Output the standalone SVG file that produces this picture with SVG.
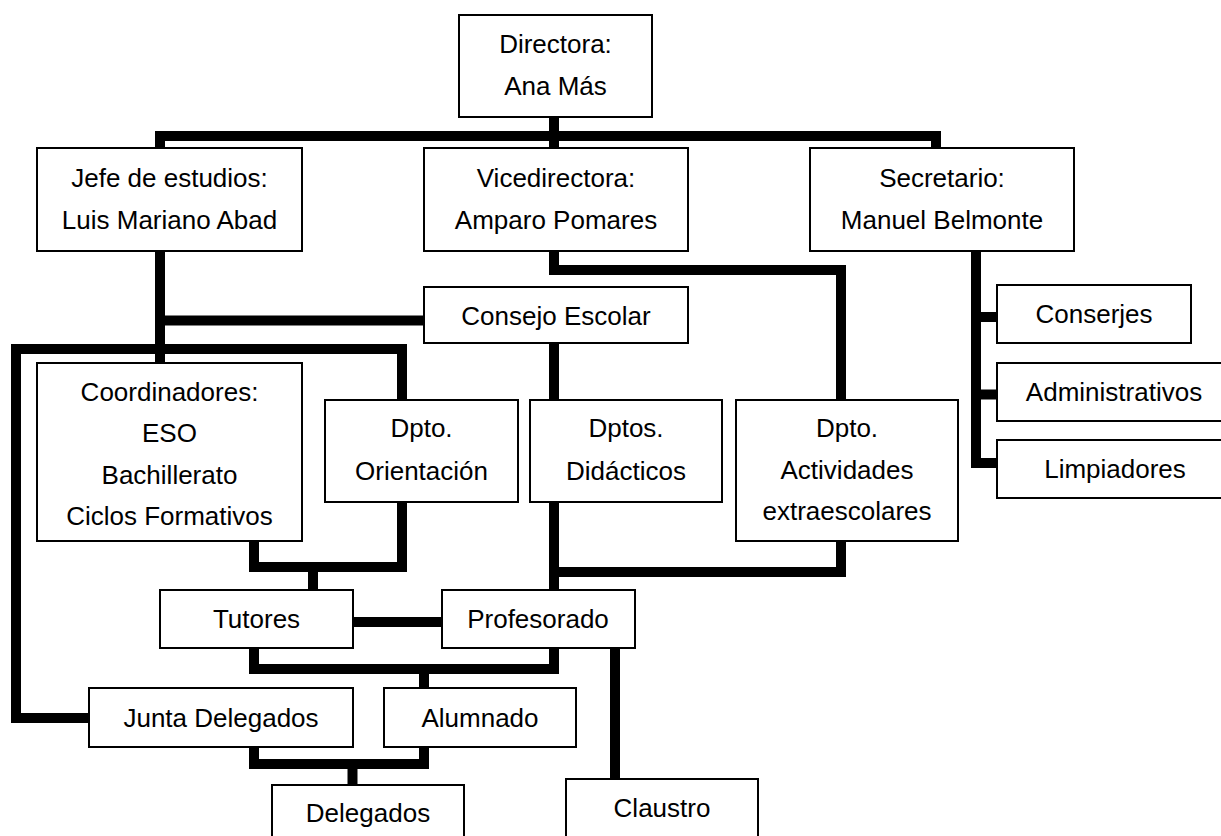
<svg xmlns="http://www.w3.org/2000/svg" width="1221" height="836" viewBox="0 0 1221 836">
<style>
.box{fill:#ffffff;stroke:#000000;stroke-width:2}
.t{font-family:"Liberation Sans",Arial,sans-serif;font-size:26px;fill:#000000;text-anchor:middle}
.c{fill:none;stroke:#000000;stroke-width:10;stroke-linejoin:miter;stroke-linecap:butt}
</style>
<rect width="1221" height="836" fill="#ffffff"/>
<g id="connectors">
  <path class="c" d="M554 117 V148"/>
  <path class="c" d="M160 148 V136 H936 V149"/>
  <path class="c" d="M160 251 V363"/>
  <path class="c" d="M160 320.5 H424"/>
  <path class="c" d="M554 251 V270 H841 V400"/>
  <path class="c" d="M554 343 V400"/>
  <path class="c" d="M402 400 V349 H16 V718 H89"/>
  <path class="c" d="M254 541 V567 H402 V502"/>
  <path class="c" d="M313 567 V590"/>
  <path class="c" d="M353 622 H442"/>
  <path class="c" d="M554 502 V590"/>
  <path class="c" d="M554 572 H841 V541"/>
  <path class="c" d="M254 648 V669 H554 V648"/>
  <path class="c" d="M424 669 V688"/>
  <path class="c" d="M615 648 V779"/>
  <path class="c" d="M254 747 V764 H424 V747"/>
  <path class="c" d="M352.5 764 V785"/>
  <path class="c" d="M976 251 V463 H997"/>
  <path class="c" d="M976 317 H997"/>
  <path class="c" d="M976 394.5 H997"/>
</g>
<g id="directora">
  <rect class="box" x="459" y="15" width="193" height="102"/>
  <text class="t" x="555.5" y="53">Directora:</text>
  <text class="t" x="555.5" y="95">Ana Más</text>
</g>
<g id="jefe">
  <rect class="box" x="37" y="148" width="265" height="103"/>
  <text class="t" x="169.5" y="187">Jefe de estudios:</text>
  <text class="t" x="169.5" y="229">Luis Mariano Abad</text>
</g>
<g id="vicedirectora">
  <rect class="box" x="424" y="148" width="264" height="103"/>
  <text class="t" x="556" y="187">Vicedirectora:</text>
  <text class="t" x="556" y="229">Amparo Pomares</text>
</g>
<g id="secretario">
  <rect class="box" x="810" y="148" width="264" height="103"/>
  <text class="t" x="942" y="187">Secretario:</text>
  <text class="t" x="942" y="229">Manuel Belmonte</text>
</g>
<g id="consejo">
  <rect class="box" x="424" y="287" width="264" height="56"/>
  <text class="t" x="556" y="325">Consejo Escolar</text>
</g>
<g id="conserjes">
  <rect class="box" x="997" y="285" width="194" height="58"/>
  <text class="t" x="1094" y="323">Conserjes</text>
</g>
<g id="administrativos">
  <rect class="box" x="997" y="363" width="240" height="58"/>
  <text class="t" x="1114" y="401">Administrativos</text>
</g>
<g id="limpiadores">
  <rect class="box" x="997" y="440" width="240" height="58"/>
  <text class="t" x="1115" y="478">Limpiadores</text>
</g>
<g id="coordinadores">
  <rect class="box" x="37" y="363" width="265" height="178"/>
  <text class="t" x="169.5" y="401">Coordinadores:</text>
  <text class="t" x="169.5" y="442">ESO</text>
  <text class="t" x="169.5" y="483.5">Bachillerato</text>
  <text class="t" x="169.5" y="525">Ciclos Formativos</text>
</g>
<g id="orientacion">
  <rect class="box" x="325" y="400" width="193" height="102"/>
  <text class="t" x="421.5" y="437">Dpto.</text>
  <text class="t" x="421.5" y="480">Orientación</text>
</g>
<g id="didacticos">
  <rect class="box" x="530" y="400" width="192" height="102"/>
  <text class="t" x="626" y="437">Dptos.</text>
  <text class="t" x="626" y="480">Didácticos</text>
</g>
<g id="actividades">
  <rect class="box" x="736" y="400" width="222" height="141"/>
  <text class="t" x="847" y="437">Dpto.</text>
  <text class="t" x="847" y="479">Actividades</text>
  <text class="t" x="847" y="520">extraescolares</text>
</g>
<g id="tutores">
  <rect class="box" x="160" y="590" width="193" height="58"/>
  <text class="t" x="256.5" y="628">Tutores</text>
</g>
<g id="profesorado">
  <rect class="box" x="442" y="590" width="193" height="58"/>
  <text class="t" x="538" y="628">Profesorado</text>
</g>
<g id="junta">
  <rect class="box" x="89" y="688" width="264" height="59"/>
  <text class="t" x="221" y="727">Junta Delegados</text>
</g>
<g id="alumnado">
  <rect class="box" x="384" y="688" width="192" height="59"/>
  <text class="t" x="480" y="727">Alumnado</text>
</g>
<g id="delegados">
  <rect class="box" x="272" y="785" width="192" height="65"/>
  <text class="t" x="368" y="822">Delegados</text>
</g>
<g id="claustro">
  <rect class="box" x="566" y="779" width="192" height="71"/>
  <text class="t" x="662" y="817">Claustro</text>
</g>
</svg>
